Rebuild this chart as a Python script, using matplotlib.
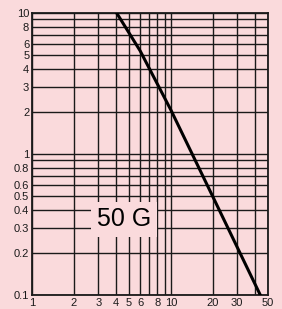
import matplotlib
matplotlib.use("Agg")
import matplotlib.pyplot as plt
from matplotlib.ticker import FixedLocator, NullLocator, NullFormatter

# Data
curve_x = [4.07, 6.0, 10.0, 20.0, 44.0]
curve_y = [10.0, 5.4, 2.05, 0.5, 0.1]

x_grid = [1, 2, 3, 4, 5, 6, 7, 8, 9, 10, 20, 30, 40, 50]
y_grid = [0.1, 0.2, 0.3, 0.4, 0.5, 0.6, 0.7, 0.8, 0.9,
          1, 2, 3, 4, 5, 6, 7, 8, 9, 10]
x_ticks = [1, 2, 3, 4, 5, 6, 8, 10, 20, 30, 50]
x_labels = ["1", "2", "3", "4", "5", "6", "8", "10", "20", "30", "50"]
y_ticks = [0.1, 0.2, 0.3, 0.4, 0.5, 0.6, 0.8, 1, 2, 3, 4, 5, 6, 8, 10]
y_labels = ["0.1", "0.2", "0.3", "0.4", "0.5", "0.6", "0.8",
            "1", "2", "3", "4", "5", "6", "8", "10"]
annotation = "50 G"

BG = "#fadadc"
INK = "#1a1a1a"

fig = plt.figure(figsize=(2.82, 3.09), dpi=100, facecolor=BG)
ax = fig.add_axes([32/282, 1 - 295/309, (268-32)/282, (295-13)/309])
ax.set_facecolor(BG)
ax.set_xscale("log")
ax.set_yscale("log")
ax.set_xlim(1, 50)
ax.set_ylim(0.1, 10)

for xv in x_grid:
    ax.axvline(xv, color=INK, lw=1.0, zorder=1)
for yv in y_grid:
    ax.axhline(yv, color=INK, lw=1.0, zorder=1)

ax.plot(curve_x, curve_y, color="black", lw=2.2, zorder=3)

ax.text(4.6, 0.345, annotation, fontsize=18, ha="center", va="center",
        family="Liberation Sans", color="black", zorder=4,
        bbox=dict(facecolor=BG, edgecolor="none", pad=4))

ax.xaxis.set_major_locator(FixedLocator(x_ticks))
ax.xaxis.set_minor_locator(NullLocator())
ax.xaxis.set_minor_formatter(NullFormatter())
ax.set_xticks(x_ticks)
ax.set_xticklabels(x_labels)
ax.yaxis.set_minor_locator(NullLocator())
ax.yaxis.set_minor_formatter(NullFormatter())
ax.set_yticks(y_ticks)
ax.set_yticklabels(y_labels)
ax.tick_params(length=0, pad=2, labelsize=8, colors=INK)
for lab in ax.get_xticklabels() + ax.get_yticklabels():
    lab.set_family("Liberation Sans")

for s in ax.spines.values():
    s.set_linewidth(1.3)
    s.set_color(INK)

fig.savefig("out.png", dpi=100, facecolor=BG)
